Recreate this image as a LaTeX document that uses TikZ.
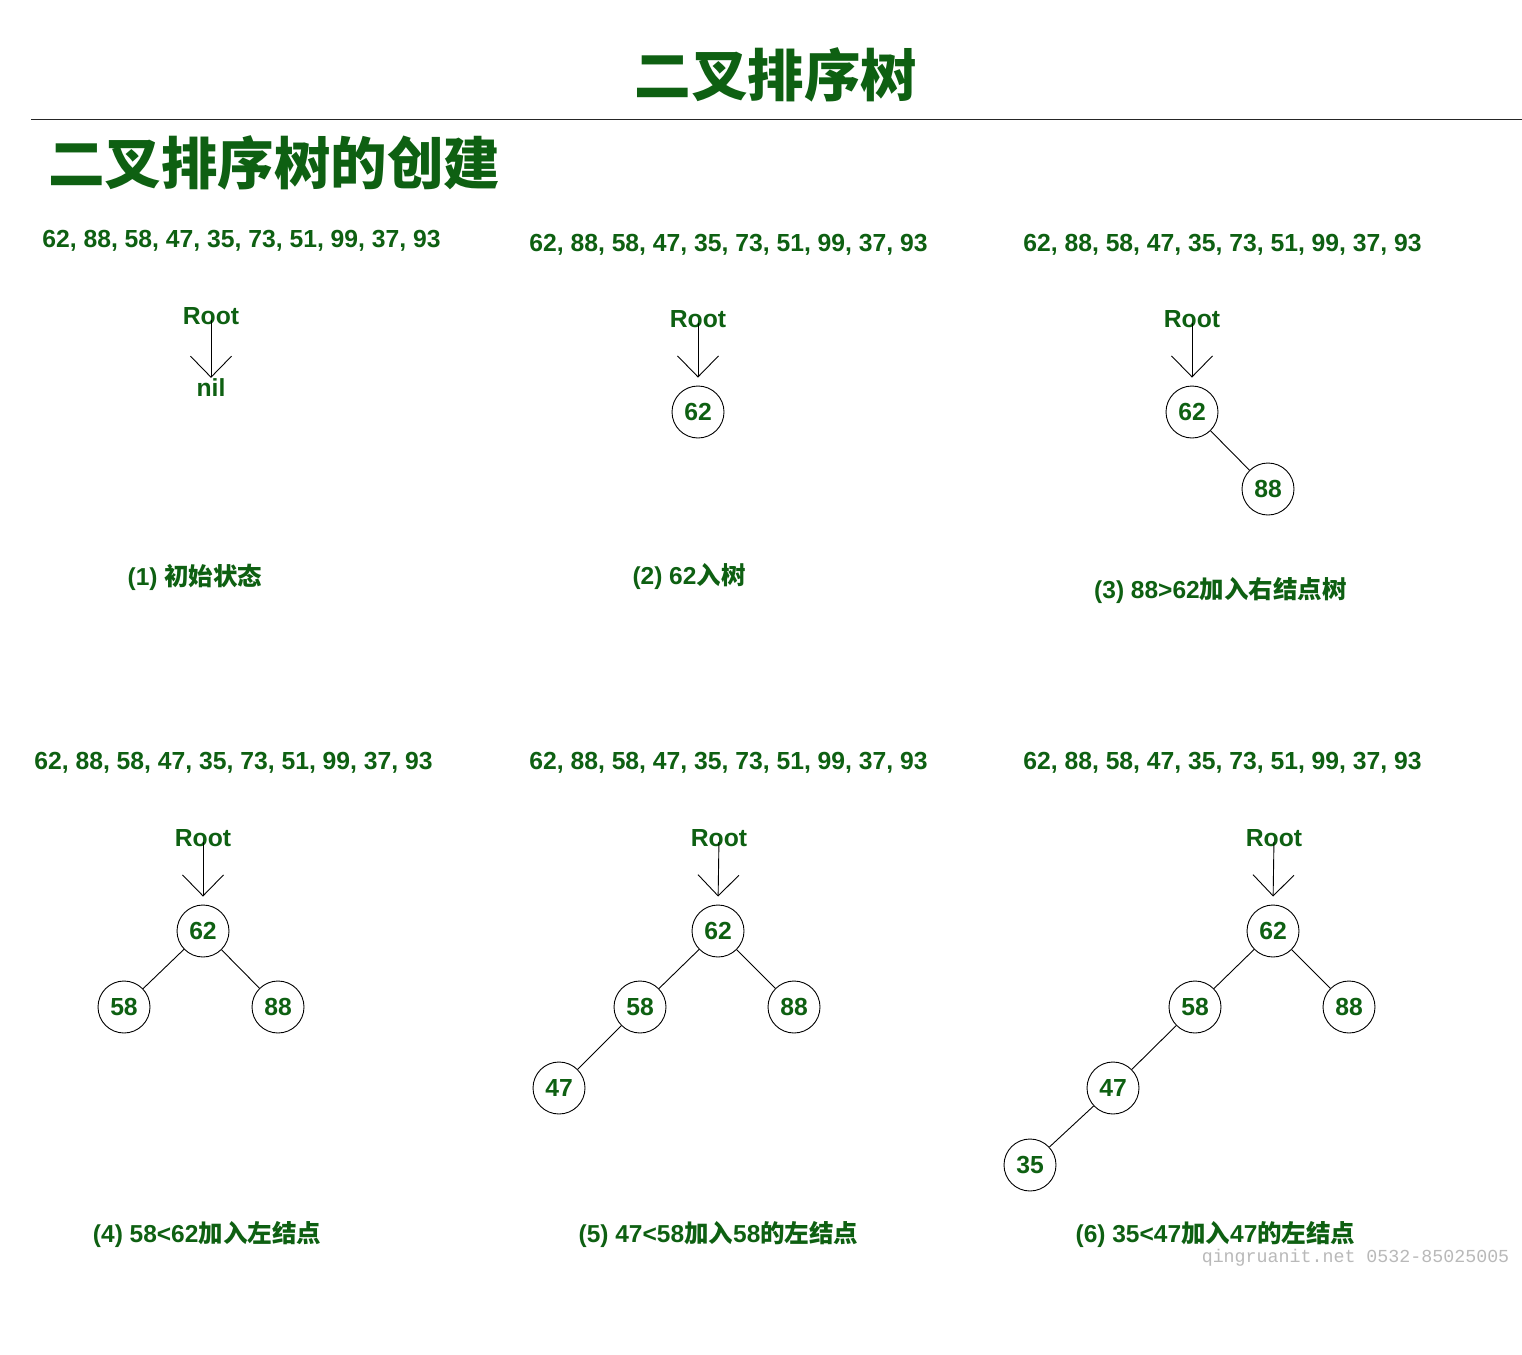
\documentclass[tikz,border=0pt]{standalone}
\usepackage{fontspec}
\setmainfont{Liberation Sans}
\newfontfamily\cjk{Noto Sans CJK SC}
\newfontfamily\wmfont{Liberation Mono}
\usetikzlibrary{arrows.meta}
\definecolor{tg}{RGB}{14,96,18}
\definecolor{wmgray}{RGB}{185,185,185}
\begin{document}
\begin{tikzpicture}[x=1pt,y=-1pt,
 lab/.style={font=\fontsize{24.7}{28}\selectfont\bfseries, text=tg, inner sep=0pt, yshift=-2pt},
 captext/.style={font=\fontsize{24.5}{28}\selectfont\bfseries, text=tg, inner sep=0pt, yshift=-2pt},
 big/.style={font=\fontsize{56.5}{60}\selectfont\bfseries\cjk, text=tg, inner sep=0pt},
 nd/.style={circle, draw, line width=0.9pt, minimum size=52pt, inner sep=0pt, font=\fontsize{24.7}{28}\selectfont\bfseries, text=tg},
 edge/.style={line width=0.9pt},
 rarr/.style={line width=0.9pt, shorten <=4pt, -{Straight Barb[length=21pt,width=41pt,line width=0.9pt]}}]
\useasboundingbox (0,0) rectangle (1522,1354);
\fill[white] (0,0) rectangle (1522,1354);
% titles
\node[big] (title) at (776,75) {二叉排序树};
\draw[line width=1pt, black!85] (31,119) -- (1522,119);
\node[big, anchor=west] (sub) at (48,163) {二叉排序树的创建};
\def\seq{62, 88, 58, 47, 35, 73, 51, 99, 37, 93}
% panel 1
\node[lab] (s1) at (241.5,239) {\seq};
\node[lab] (r1) at (211,314) {Root};
\node[lab] (nil) at (211,386) {nil};
\draw[rarr, shorten >=1pt] (r1.center) -- (nil.north);
\node[captext] (c1) at (195,575) {(1) {\cjk 初始状态}};
% panel 2
\node[lab] (s2) at (728.5,243) {\seq};
\node[lab] (r2) at (698,317) {Root};
\node[nd] (b62) at (698,412) {62};
\draw[rarr, shorten >=8pt] (r2.center) -- (b62.north);
\node[captext] (c2) at (689,575) {(2) 62{\cjk 入树}};
% panel 3
\node[lab] (s3) at (1222.5,243) {\seq};
\node[lab] (r3) at (1192,317) {Root};
\node[nd] (c62) at (1192,412) {62};
\node[nd] (c88) at (1268,489) {88};
\draw[rarr, shorten >=8pt] (r3.center) -- (c62.north);
\draw[edge] (c62) -- (c88);
\node[captext] (c3) at (1220.5,588) {(3) 88>62{\cjk 加入右结点树}};
% panel 4
\node[lab] (s4) at (233.5,761) {\seq};
\node[lab] (r4) at (203,836) {Root};
\node[nd] (d62) at (203,931) {62};
\node[nd] (d58) at (124,1007) {58};
\node[nd] (d88) at (278,1007) {88};
\draw[rarr, shorten >=8pt] (r4.center) -- (d62.north);
\draw[edge] (d62) -- (d58);
\draw[edge] (d62) -- (d88);
\node[captext] (c4) at (207,1232) {(4) 58<62{\cjk 加入左结点}};
% panel 5
\node[lab] (s5) at (728.5,761) {\seq};
\node[lab] (r5) at (719,836) {Root};
\node[nd] (e62) at (718,931) {62};
\node[nd] (e58) at (640,1007) {58};
\node[nd] (e88) at (794,1007) {88};
\node[nd] (e47) at (559,1088) {47};
\draw[rarr, shorten >=8pt] (r5.center) -- (e62.north);
\draw[edge] (e62) -- (e58);
\draw[edge] (e62) -- (e88);
\draw[edge] (e58) -- (e47);
\node[captext] (c5) at (718.5,1232) {(5) 47<58{\cjk 加入}58{\cjk 的左结点}};
% panel 6
\node[lab] (s6) at (1222.5,761) {\seq};
\node[lab] (r6) at (1274,836) {Root};
\node[nd] (f62) at (1273,931) {62};
\node[nd] (f58) at (1195,1007) {58};
\node[nd] (f88) at (1349,1007) {88};
\node[nd] (f47) at (1113,1088) {47};
\node[nd] (f35) at (1030,1165) {35};
\draw[rarr, shorten >=8pt] (r6.center) -- (f62.north);
\draw[edge] (f62) -- (f58);
\draw[edge] (f62) -- (f88);
\draw[edge] (f58) -- (f47);
\draw[edge] (f47) -- (f35);
\node[captext] (c6) at (1215.5,1232) {(6) 35<47{\cjk 加入}47{\cjk 的左结点}};
% watermark
\node[font=\fontsize{18.3}{20}\selectfont\wmfont, text=wmgray, inner sep=0pt] (wm) at (1355.5,1258) {qingruanit.net 0532-85025005};
\end{tikzpicture}
\end{document}
